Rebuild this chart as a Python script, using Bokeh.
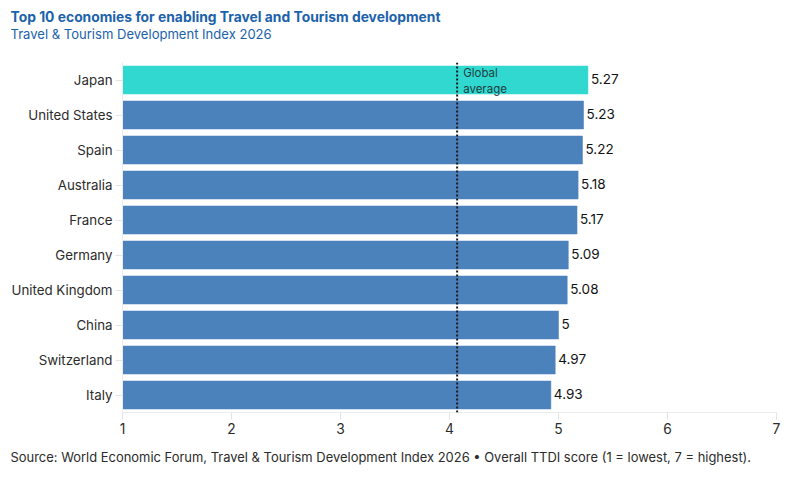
from bokeh.plotting import figure
from bokeh.core.properties import value
from bokeh.models import ColumnDataSource, LabelSet, Span, FixedTicker, Title
from bokeh.embed import file_html
from bokeh.resources import INLINE

economies = ["Japan", "United States", "Spain", "Australia", "France", "Germany",
             "United Kingdom", "China", "Switzerland", "Italy"]
scores = [5.27, 5.23, 5.22, 5.18, 5.17, 5.09, 5.08, 5, 4.97, 4.93]
score_labels = ["5.27", "5.23", "5.22", "5.18", "5.17", "5.09", "5.08", "5", "4.97", "4.93"]
global_average = 4.07
x_ticks = [1, 2, 3, 4, 5, 6, 7]
TEAL, BLUE = "#30d8d0", "#4c82bc"
bar_colors = [TEAL] + [BLUE] * 9
FONT = "Inter"
DARK = "#2b2b2b"
TITLE_BLUE = "#1c62ab"

p = figure(width=786, height=477, x_range=(1, 7), y_range=list(reversed(economies)),
           output_backend="svg", toolbar_location=None,
           min_border_left=122, min_border_right=10, min_border_top=62, min_border_bottom=65)
p.outline_line_color = None
p.xgrid.visible = False
p.ygrid.visible = False

src = ColumnDataSource(dict(name=economies, val=scores, lab=score_labels, col=bar_colors))
p.hbar(y="name", left=1, right="val", height=0.8, fill_color="col", line_color="col",
       line_alpha=0.5, line_width=1, source=src)

p.add_layout(LabelSet(x="val", y="name", text="lab", source=src, x_offset=3, y_offset=1,
                      text_font=value(FONT), text_font_size=value("13.5px"), text_color="#111111",
                      text_baseline="middle", text_align="left"))

p.add_layout(Span(location=global_average, dimension="height", line_color="#1a1a1a",
                  line_width=2, line_dash=[2, 2]))
ann = ColumnDataSource(dict(x=[global_average], y=[economies[0]], t=["Global\naverage"]))
p.add_layout(LabelSet(x="x", y="y", text="t", source=ann, x_offset=6, y_offset=-1,
                      text_font=value(FONT), text_font_size=value("11.5px"), text_color="#1f3f3f",
                      text_baseline="middle", text_align="left", text_line_height=1.15))

for ax in (p.xaxis[0], p.yaxis[0]):
    ax.axis_line_color = "#ececec"
    ax.major_tick_line_color = "#e4e4e4"
    ax.minor_tick_line_color = None
    ax.major_label_text_font = FONT
    ax.major_label_text_font_size = "13.3px"
    ax.major_label_text_color = DARK
    ax.major_tick_out = 7
    ax.major_tick_in = 0
p.xaxis[0].ticker = FixedTicker(ticks=x_ticks)
p.xaxis[0].major_label_text_font_size = "13.8px"
p.xaxis[0].major_label_standoff = 3
p.yaxis[0].major_label_standoff = 3

def caption(text, side, size, color, style, standoff):
    p.add_layout(Title(text=text, align="left", offset=-112, standoff=standoff,
                       text_font=FONT, text_font_style=style, text_font_size=size,
                       text_color=color), side)

caption("Travel & Tourism Development Index 2026", "above", "13.05px", TITLE_BLUE, "normal", 42)
caption("Top 10 economies for enabling Travel and Tourism development", "above", "13.85px", TITLE_BLUE, "bold", -44)
caption("Source: World Economic Forum, Travel & Tourism Development Index 2026 \u2022 Overall TTDI score (1 = lowest, 7 = highest).",
        "below", "12.94px", DARK, "normal", 21)

open("out.html", "w").write(file_html(p, INLINE))
